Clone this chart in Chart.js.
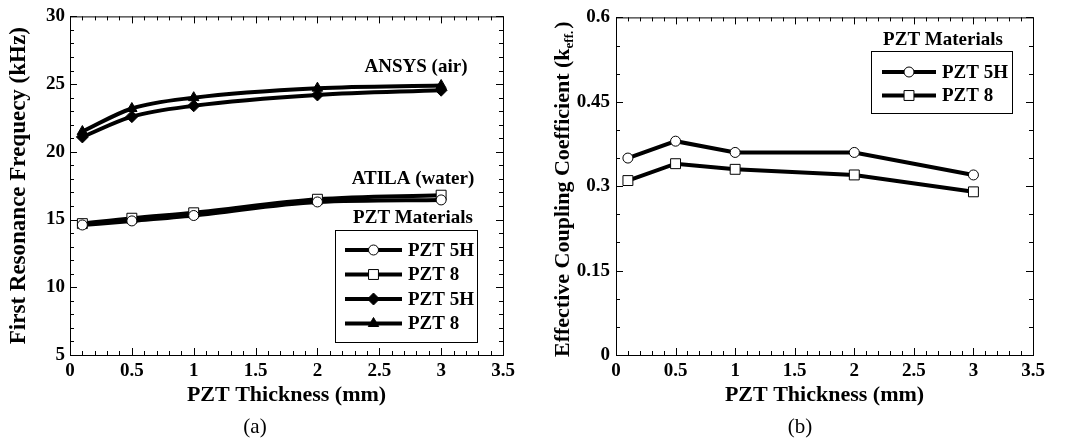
<!DOCTYPE html>
<html>
<head>
<meta charset="utf-8">
<script src="https://cdn.jsdelivr.net/npm/chart.js@4"></script>
<style>
  html, body { margin: 0; padding: 0; background: #fff; }
  .wrap { position: relative; width: 1072px; height: 441px; }
  .panel { position: absolute; top: 0; width: 536px; height: 441px; }
  #panelA { left: 0; }
  #panelB { left: 536px; }
</style>
</head>
<body>
<div class="wrap">
  <div class="panel" id="panelA"><canvas id="chartA" width="536" height="441"></canvas></div>
  <div class="panel" id="panelB"><canvas id="chartB" width="536" height="441"></canvas></div>
</div>
<script>
// ---- data, panel (a) ----
const thicknessA = [0.1, 0.5, 1, 2, 3];
const atila5H = [14.6, 14.9, 15.3, 16.3, 16.45];
const atila8 = [14.7, 15.1, 15.5, 16.5, 16.8];
const ansys5H = [21.1, 22.6, 23.4, 24.2, 24.55];
const ansys8 = [21.5, 23.2, 24.0, 24.7, 24.9];
const seriesLabelsA = ['PZT 5H', 'PZT 8', 'PZT 5H', 'PZT 8'];
const xTicks = ['0', '0.5', '1', '1.5', '2', '2.5', '3', '3.5'];
const yTicksA = ['5', '10', '15', '20', '25', '30'];

// ---- data, panel (b) ----
const thicknessB = [0.1, 0.5, 1, 2, 3];
const keff5H = [0.35, 0.38, 0.36, 0.36, 0.32];
const keff8 = [0.31, 0.34, 0.33, 0.32, 0.29];
const seriesLabelsB = ['PZT 5H', 'PZT 8'];
const yTicksB = ['0', '0.15', '0.3', '0.45', '0.6'];

const SERIF = '"Liberation Serif", "Times New Roman", serif';
Chart.defaults.font.family = SERIF;
Chart.defaults.color = '#000';

function pts(xs, ys) {
    return xs.map((x, i) => ({ x: x, y: ys[i] }));
}

// frame + inward major/minor ticks on all four sides
const frameTicks = {
    id: 'frameTicks',
    afterDraw(chart, args, opts) {
        const { ctx, chartArea: a, scales } = chart;
        ctx.save();
        ctx.strokeStyle = '#000';
        ctx.lineWidth = 1;
        ctx.strokeRect(a.left + 0.5, a.top + 0.5, a.right - a.left, a.bottom - a.top);
        const x = scales.x, y = scales.y;
        ctx.beginPath();
        for (let v = x.min; v <= x.max + 1e-9; v += opts.xMinor) {
            const px = Math.round(x.getPixelForValue(v)) + 0.5;
            const major = Math.abs(v / opts.xMajor - Math.round(v / opts.xMajor)) < 1e-6;
            const len = major ? 7 : 4;
            ctx.moveTo(px, a.bottom); ctx.lineTo(px, a.bottom - len);
            ctx.moveTo(px, a.top); ctx.lineTo(px, a.top + len);
        }
        for (let v = y.min; v <= y.max + 1e-9; v += opts.yMinor) {
            const py = Math.round(y.getPixelForValue(v)) + 0.5;
            const k = (v - y.min) / opts.yMajor;
            const len = Math.abs(k - Math.round(k)) < 1e-6 ? 7 : 4;
            ctx.moveTo(a.left, py); ctx.lineTo(a.left + len, py);
            ctx.moveTo(a.right, py); ctx.lineTo(a.right - len, py);
        }
        ctx.stroke();
        ctx.restore();
    }
};

// boxed legend + free text annotations
const boxLegend = {
    id: 'boxLegend',
    afterDraw(chart, args, opts) {
        const { ctx } = chart;
        ctx.save();
        ctx.fillStyle = '#000';
        ctx.font = 'bold 19px ' + SERIF;
        ctx.textAlign = 'center';
        ctx.textBaseline = 'middle';
        ctx.fillText(opts.title, opts.titleX, opts.titleY);

        ctx.strokeStyle = '#000';
        ctx.lineWidth = 1;
        ctx.strokeRect(opts.box[0] + 0.5, opts.box[1] + 0.5, opts.box[2], opts.box[3]);

        chart.data.datasets.forEach((ds, i) => {
            const yy = opts.rowY + i * opts.rowGap;
            ctx.strokeStyle = '#000';
            ctx.beginPath();
            ctx.lineWidth = ds.borderWidth;
            ctx.moveTo(opts.lineX0, yy);
            ctx.lineTo(opts.lineX1, yy);
            ctx.stroke();

            ctx.fillStyle = ds.pointBackgroundColor;
            ctx.lineWidth = 1;
            Chart.helpers.drawPoint(ctx, {
                pointStyle: ds.pointStyle,
                radius: ds.pointRadius,
                borderWidth: 1
            }, (opts.lineX0 + opts.lineX1) / 2, yy);

            ctx.fillStyle = '#000';
            ctx.font = 'bold 19px ' + SERIF;
            ctx.textAlign = 'left';
            ctx.textBaseline = 'middle';
            ctx.fillText(ds.label, opts.textX, yy + 1);
        });

        (opts.notes || []).forEach(n => {
            ctx.font = n.font;
            ctx.textAlign = 'center';
            ctx.textBaseline = 'middle';
            ctx.fillStyle = '#000';
            ctx.fillText(n.text, n.x, n.y);
        });
        ctx.restore();
    }
};

function lineSet(label, data, style, radius, fill, tension) {
    return {
        label: label,
        data: data,
        borderColor: '#000',
        borderWidth: 4,
        pointStyle: style,
        pointRadius: radius,
        pointBorderWidth: 1,
        pointBorderColor: '#000',
        pointBackgroundColor: fill,
        tension: tension,
        cubicInterpolationMode: tension > 0 ? 'monotone' : 'default',
        fill: false
    };
}

function xScale(labels) {
    return {
        type: 'linear', min: 0, max: 3.5,
        grid: { display: false, drawTicks: false },
        border: { display: false },
        ticks: {
            stepSize: 0.5, padding: 5,
            font: { size: 19, weight: 'bold' },
            callback: (v, i) => labels[i]
        },
        title: {
            display: true, text: 'PZT Thickness (mm)',
            font: { size: 22, weight: 'bold' },
            padding: { top: 0, bottom: 2 }
        },
        afterFit: s => { s.height = 56; }
    };
}

// ---- panel (a) ----
new Chart(document.getElementById('chartA'), {
    type: 'line',
    data: {
        datasets: [
            lineSet(seriesLabelsA[0], pts(thicknessA, atila5H), 'circle', 5, '#fff', 0.3),
            lineSet(seriesLabelsA[1], pts(thicknessA, atila8), 'rect', 7, '#fff', 0.3),
            lineSet(seriesLabelsA[2], pts(thicknessA, ansys5H), 'rectRot', 6, '#000', 0.4),
            lineSet(seriesLabelsA[3], pts(thicknessA, ansys8), 'triangle', 6, '#000', 0.4)
        ]
    },
    options: {
        responsive: false,
        animation: false,
        events: [],
        layout: { padding: { top: 11, right: 33, left: 0, bottom: 30 } },
        scales: {
            x: xScale(xTicks),
            y: {
                type: 'linear', min: 5, max: 30,
                grid: { display: false, drawTicks: false },
                border: { display: false },
                ticks: {
                    stepSize: 5, padding: 5,
                    font: { size: 19, weight: 'bold' },
                    callback: (v, i) => yTicksA[i]
                },
                title: {
                    display: true, text: 'First Resonance Frequecy (kHz)',
                    font: { size: 23, weight: 'bold' },
                    padding: { top: 5, bottom: 0 }
                },
                afterFit: s => { s.width = 70; }
            }
        },
        plugins: {
            legend: { display: false },
            tooltip: { enabled: false },
            frameTicks: { xMajor: 0.5, xMinor: 0.1, yMajor: 5, yMinor: 1 },
            boxLegend: {
                title: 'PZT Materials', titleX: 413, titleY: 218,
                box: [335, 230, 142, 112],
                rowY: 250, rowGap: 24.5,
                lineX0: 345, lineX1: 402, textX: 408,
                notes: [
                    { text: 'ANSYS (air)', x: 416, y: 67, font: 'bold 19px ' + SERIF },
                    { text: 'ATILA (water)', x: 413, y: 179, font: 'bold 19px ' + SERIF },
                    { text: '(a)', x: 255, y: 427, font: '21px ' + SERIF }
                ]
            }
        }
    },
    plugins: [frameTicks, boxLegend]
});

// right panel y title with subscript
const keffTitle = {
    id: 'keffTitle',
    afterDraw(chart) {
        const { ctx, chartArea: a } = chart;
        const main = 'Effective Coupling Coefficient (k';
        const sub = 'eff.';
        const close = ')';
        ctx.save();
        ctx.fillStyle = '#000';
        ctx.font = 'bold 22px ' + SERIF;
        const wMain = ctx.measureText(main).width;
        const wClose = ctx.measureText(close).width;
        ctx.font = 'bold 13px ' + SERIF;
        const wSub = ctx.measureText(sub).width;
        const total = wMain + wSub + wClose + 2;
        ctx.translate(27, (a.top + a.bottom) / 2 + 3);
        ctx.rotate(-Math.PI / 2);
        ctx.textBaseline = 'middle';
        ctx.textAlign = 'left';
        let x0 = -total / 2;
        ctx.font = 'bold 22px ' + SERIF;
        ctx.fillText(main, x0, 0);
        x0 += wMain;
        ctx.font = 'bold 13px ' + SERIF;
        ctx.fillText(sub, x0, 7);
        x0 += wSub + 2;
        ctx.font = 'bold 22px ' + SERIF;
        ctx.fillText(close, x0, 0);
        ctx.restore();
    }
};

// ---- panel (b) ----
new Chart(document.getElementById('chartB'), {
    type: 'line',
    data: {
        datasets: [
            lineSet(seriesLabelsB[0], pts(thicknessB, keff5H), 'circle', 5, '#fff', 0),
            lineSet(seriesLabelsB[1], pts(thicknessB, keff8), 'rect', 7, '#fff', 0)
        ]
    },
    options: {
        responsive: false,
        animation: false,
        events: [],
        layout: { padding: { top: 11, right: 39, left: 0, bottom: 30 } },
        scales: {
            x: xScale(xTicks),
            y: {
                type: 'linear', min: 0, max: 0.6,
                grid: { display: false, drawTicks: false },
                border: { display: false },
                ticks: {
                    stepSize: 0.15, padding: 6,
                    font: { size: 19, weight: 'bold' },
                    callback: (v, i) => yTicksB[i]
                },
                title: { display: false },
                afterFit: s => { s.width = 80; }
            }
        },
        plugins: {
            legend: { display: false },
            tooltip: { enabled: false },
            frameTicks: { xMajor: 0.5, xMinor: 0.1, yMajor: 0.15, yMinor: 0.05 },
            boxLegend: {
                title: 'PZT Materials', titleX: 407, titleY: 40,
                box: [335, 51, 141, 62],
                rowY: 72, rowGap: 23.5,
                lineX0: 346, lineX1: 400, textX: 406,
                notes: [
                    { text: '(b)', x: 264, y: 427, font: '21px ' + SERIF }
                ]
            }
        }
    },
    plugins: [frameTicks, boxLegend, keffTitle]
});
</script>
</body>
</html>
